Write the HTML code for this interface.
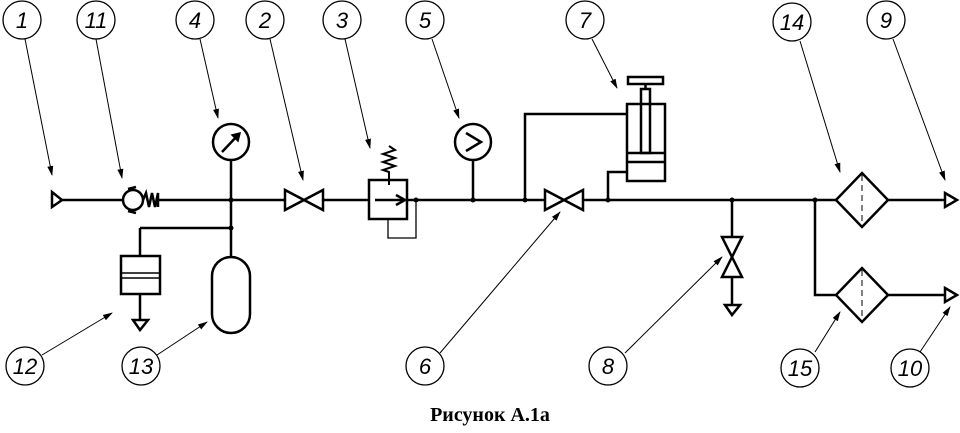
<!DOCTYPE html>
<html><head><meta charset="utf-8"><style>
html,body{margin:0;padding:0;background:#fff;}
svg{display:block;}
text{font-family:"Liberation Sans",sans-serif;font-style:italic;font-size:22px;}
</style></head><body>
<svg width="960" height="433" viewBox="0 0 960 433" xmlns="http://www.w3.org/2000/svg">
<defs><marker id="a" markerWidth="10" markerHeight="8" refX="9" refY="4" orient="auto" markerUnits="userSpaceOnUse"><path d="M0,1 L10,4 L0,7 Z" fill="#000"/></marker></defs>
<g fill="none" stroke="#000" stroke-width="1.3">
<circle cx="22" cy="20" r="19"/><circle cx="96" cy="20" r="19"/><circle cx="195" cy="20" r="19"/>
<circle cx="265" cy="20" r="19"/><circle cx="342" cy="20" r="19"/><circle cx="425" cy="20" r="19"/>
<circle cx="585" cy="20" r="19"/><circle cx="792" cy="22" r="19"/><circle cx="886" cy="20" r="19"/>
<circle cx="25" cy="366" r="19"/><circle cx="141" cy="366" r="19"/><circle cx="425" cy="366" r="19"/>
<circle cx="608" cy="366" r="19"/><circle cx="800" cy="368" r="19"/><circle cx="910" cy="368" r="19"/>
<g stroke-width="1" marker-end="url(#a)">
<line x1="25" y1="39" x2="52" y2="175"/><line x1="96" y1="39" x2="122" y2="178"/>
<line x1="200" y1="39" x2="218" y2="118"/><line x1="270" y1="39" x2="303" y2="180"/>
<line x1="345" y1="39" x2="370" y2="148"/><line x1="432" y1="39" x2="459" y2="118"/>
<line x1="592" y1="39" x2="617" y2="88"/><line x1="800" y1="41" x2="840" y2="172"/>
<line x1="893" y1="39" x2="945" y2="180"/>
<line x1="42" y1="355" x2="112" y2="313"/><line x1="157" y1="355" x2="207" y2="322"/>
<line x1="440" y1="353" x2="560" y2="212"/><line x1="625" y1="353" x2="722" y2="257"/>
<line x1="815" y1="352" x2="840" y2="312"/><line x1="920" y1="352" x2="950" y2="307"/>
</g>
</g>
<g fill="none" stroke="#000" stroke-width="2.5">
<polygon points="52,192 62,200 52,207"/>
<line x1="62" y1="200" x2="122" y2="200"/>
<circle cx="133" cy="200" r="10"/>
<path d="M128,189 L136,187 M128,211 L136,213"/>
<path d="M143,200 L146,193 L149,207 L152,193 L155,207 L158,193 L158,207"/>
<line x1="158" y1="200" x2="285" y2="200"/>
<circle cx="231" cy="142" r="18"/>
<line x1="222" y1="152" x2="239" y2="134"/>
<path d="M232,135 L240,133 L238,141 Z" fill="#000" stroke-width="1.5"/>
<line x1="231" y1="160" x2="231" y2="257"/>
<line x1="140" y1="228" x2="231" y2="228"/>
<line x1="140" y1="228" x2="140" y2="256"/>
<rect x="121" y="256" width="39" height="38"/>
<line x1="121" y1="273" x2="160" y2="273" stroke-width="1.5"/>
<line x1="121" y1="278" x2="160" y2="278" stroke-width="1.5"/>
<line x1="140" y1="294" x2="140" y2="320"/>
<polygon points="133,320 148,320 140,330"/>
<rect x="212" y="257" width="38" height="76" rx="19"/>
<path d="M285,190 L285,210 L323,190 L323,210 Z"/>
<line x1="323" y1="200" x2="369" y2="200"/>
<rect x="369" y="180" width="38" height="39"/>
<line x1="375" y1="200" x2="404" y2="200"/>
<path d="M396,195 L405,200 L396,205" />
<path d="M389,185 L389,172 L383,170 L395,166 L383,162 L395,158 L383,154 L395,150 L389,146" stroke-width="2"/>
<line x1="407" y1="200" x2="545" y2="200"/>
<path d="M388,219 L388,238 L416,238 L416,200" stroke-width="1.3"/>
<circle cx="473" cy="142" r="18"/>
<path d="M466,133 L481,142 L466,151"/>
<line x1="473" y1="160" x2="473" y2="200"/>
<path d="M545,190 L545,210 L583,190 L583,210 Z"/>
<line x1="583" y1="200" x2="836" y2="200"/>
<path d="M525,200 L525,114 L627,114"/>
<path d="M608,200 L608,172 L627,172"/>
<rect x="627" y="104" width="38" height="77"/>
<line x1="627" y1="153" x2="665" y2="153"/>
<line x1="627" y1="162" x2="665" y2="162"/>
<rect x="641" y="89" width="9" height="64"/>
<rect x="628" y="77" width="35" height="7"/>
<line x1="645.5" y1="84" x2="645.5" y2="89"/>
<line x1="732" y1="200" x2="732" y2="237"/>
<path d="M722,237 L742,237 L722,277 L742,277 Z"/>
<line x1="732" y1="277" x2="732" y2="305"/>
<polygon points="725,305 740,305 732,315"/>
<path d="M815,200 L815,295 L836,295"/>
<polygon points="836,200 862,173 888,200 862,227"/>
<polygon points="836,295 862,268 888,295 862,322"/>
<line x1="888" y1="200" x2="945" y2="200"/>
<line x1="888" y1="295" x2="945" y2="295"/>
<polygon points="945,193 957,200 945,207"/>
<polygon points="945,288 957,295 945,302"/>
<line x1="862" y1="175" x2="862" y2="225" stroke-width="1" stroke-dasharray="6,4"/>
<line x1="862" y1="270" x2="862" y2="320" stroke-width="1" stroke-dasharray="6,4"/>
</g>
<g fill="#000">
<circle cx="231" cy="200" r="2.5"/><circle cx="231" cy="228" r="2.5"/><circle cx="416" cy="200" r="2.5"/>
<circle cx="473" cy="200" r="2.5"/><circle cx="525" cy="200" r="2.5"/><circle cx="608" cy="200" r="2.5"/>
<circle cx="732" cy="200" r="2.5"/><circle cx="815" cy="200" r="2.5"/>
</g>
<g text-anchor="middle">
<text x="22" y="28">1</text><text x="96" y="28">11</text><text x="195" y="28">4</text>
<text x="265" y="28">2</text><text x="342" y="28">3</text><text x="425" y="28">5</text>
<text x="585" y="28">7</text><text x="792" y="30">14</text><text x="886" y="28">9</text>
<text x="25" y="374">12</text><text x="141" y="374">13</text><text x="425" y="374">6</text>
<text x="608" y="374">8</text><text x="800" y="376">15</text><text x="910" y="376">10</text>
</g>
<text x="490" y="421" text-anchor="middle" style="font-family:'Liberation Serif',serif;font-style:normal;font-weight:bold;font-size:20px;">Рисунок А.1а</text>
</svg>
</body></html>
